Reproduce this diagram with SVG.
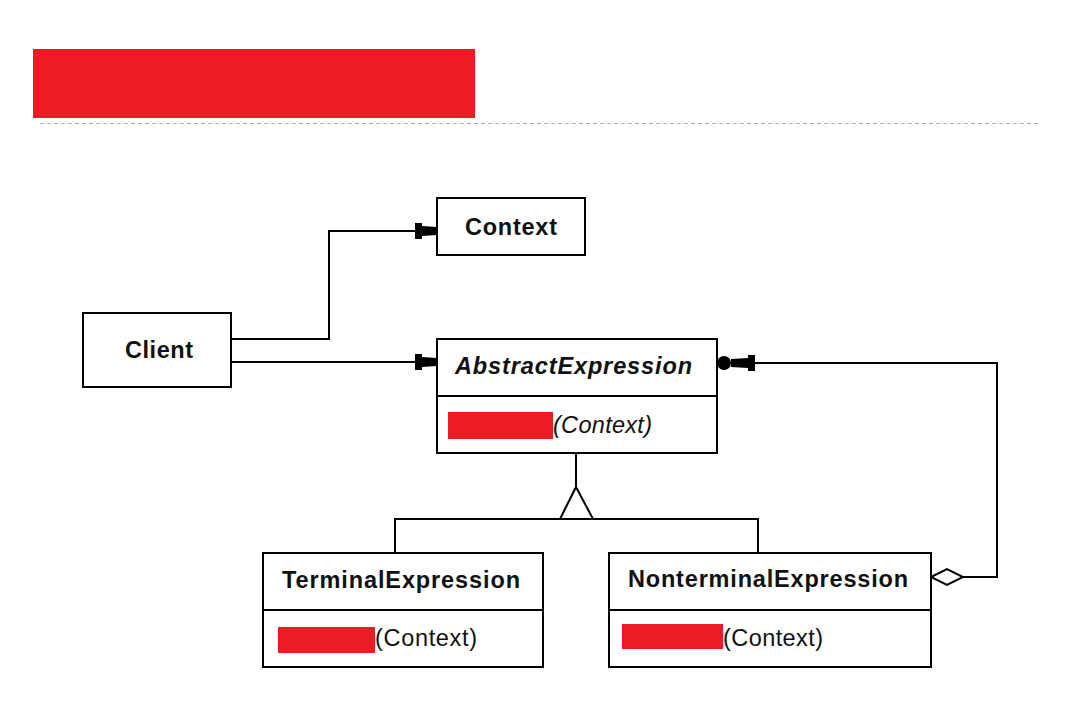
<svg xmlns="http://www.w3.org/2000/svg" width="1073" height="724" viewBox="0 0 1073 724">
<style>
.box{fill:#fff;stroke:#000;stroke-width:2}
.ln{fill:none;stroke:#000;stroke-width:2}
.t{font-family:"Liberation Sans",Arial,sans-serif;font-size:23.5px;fill:#111}
.b{font-weight:bold}
.i{font-style:italic}
.red{fill:#ED1C24}
</style>
<defs>
<path id="arrowR" d="M0,-8 L7,-8 L7,-5 L22,-4 L22,4 L7,5 L7,8 L0,8 Z" fill="#000"/>
</defs>
<rect class="red" x="33" y="49" width="442" height="69"/>
<line x1="40" y1="123.5" x2="1040" y2="123.5" stroke="#A4B0C0" stroke-width="1.2" stroke-dasharray="4,3"/>

<g id="connectors">
<polyline class="ln" points="231,339 329,339 329,231 420,231"/>
<use href="#arrowR" x="415" y="231"/>
<line class="ln" x1="231" y1="362" x2="420" y2="362"/>
<use href="#arrowR" x="415" y="362"/>
<polyline class="ln" points="963,577 997,577 997,363 750,363"/>
<path d="M755,355 L748,355 L748,358 L731,359 L731,367 L748,368 L748,371 L755,371 Z" fill="#000"/>
<circle cx="724" cy="363" r="7" fill="#000"/>
<line class="ln" x1="576" y1="453" x2="576" y2="487"/>
<polyline class="ln" points="395,553 395,519 758,519 758,553"/>
<polygon points="576,487 560,519 593,519" fill="#fff" stroke="#000" stroke-width="2"/>
<polygon points="931,577 947,569 963,577 947,585" fill="#fff" stroke="#000" stroke-width="2"/>
</g>

<g id="context">
<rect class="box" x="437" y="198" width="148" height="57"/>
<text class="t b" x="465" y="235" textLength="92" lengthAdjust="spacing">Context</text>
</g>

<g id="client">
<rect class="box" x="83" y="313" width="148" height="74"/>
<text class="t b" x="125" y="358" textLength="68" lengthAdjust="spacing">Client</text>
</g>

<g id="abstractExpression">
<rect class="box" x="437" y="339" width="280" height="114"/>
<line class="ln" x1="437" y1="396" x2="717" y2="396"/>
<text class="t b i" x="455" y="374" textLength="237" lengthAdjust="spacing">AbstractExpression</text>
<rect class="red" x="448" y="412" width="105" height="27"/>
<text class="t i" x="553" y="433" textLength="99" lengthAdjust="spacing">(Context)</text>
</g>

<g id="terminalExpression">
<rect class="box" x="263" y="553" width="280" height="114"/>
<line class="ln" x1="263" y1="610" x2="543" y2="610"/>
<text class="t b" x="282" y="588" textLength="238" lengthAdjust="spacing">TerminalExpression</text>
<rect class="red" x="278" y="627" width="97" height="26"/>
<text class="t" x="375" y="646" textLength="102" lengthAdjust="spacing">(Context)</text>
</g>

<g id="nonterminalExpression">
<rect class="box" x="609" y="553" width="322" height="114"/>
<line class="ln" x1="609" y1="610" x2="931" y2="610"/>
<text class="t b" x="628" y="587" textLength="280" lengthAdjust="spacing">NonterminalExpression</text>
<rect class="red" x="622" y="624" width="101" height="25"/>
<text class="t" x="723" y="646" textLength="100" lengthAdjust="spacing">(Context)</text>
</g>
</svg>
